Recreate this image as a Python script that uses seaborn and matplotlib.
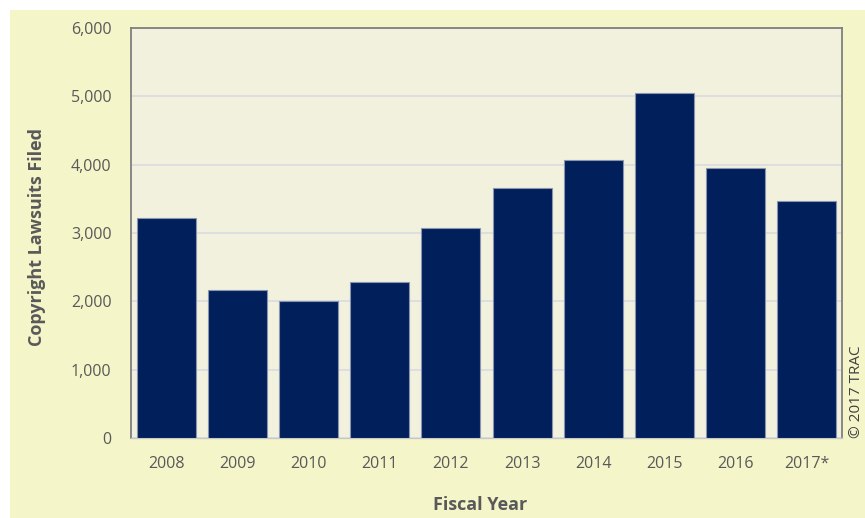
import matplotlib
matplotlib.use("Agg")
import matplotlib.pyplot as plt
import seaborn as sns
import pandas as pd
from matplotlib.patches import Rectangle

years = ["2008", "2009", "2010", "2011", "2012", "2013", "2014", "2015", "2016", "2017*"]
lawsuits = [3225, 2170, 2005, 2290, 3080, 3655, 4075, 5045, 3955, 3465]
yticks = [0, 1000, 2000, 3000, 4000, 5000, 6000]

df = pd.DataFrame({"year": years, "count": lawsuits})

sns.set_theme(style="white")
plt.rcParams["font.family"] = ["Open Sans", "DejaVu Sans"]

fig = plt.figure(figsize=(8.65, 5.18), dpi=100, facecolor="white")
fig.patches.append(Rectangle((10 / 865, 0), 1 - 10 / 865, 1 - 10 / 518,
                             transform=fig.transFigure, facecolor="#f4f5c9",
                             edgecolor="none", zorder=-5))

ax = fig.add_axes([131 / 865, (518 - 438) / 518, 711 / 865, 410 / 518])
ax.set_zorder(1)
ax.set_facecolor("#f1f1de")

sns.barplot(data=df, x="year", y="count", color="#001f5b", width=0.83,
            edgecolor="#8a93b0", linewidth=0.8, saturation=1, ax=ax, zorder=3)

ax.set_ylim(0, 6000)
ax.set_xlim(-0.5, len(years) - 0.5)
ax.set_yticks(yticks)
ax.set_yticklabels([f"{v:,}" for v in yticks])
ax.yaxis.grid(True, color="#d9dbe0", linewidth=1.2, zorder=0)
ax.set_axisbelow(True)

for s in ["left", "top", "right"]:
    ax.spines[s].set_color("#7f7f7f")
    ax.spines[s].set_linewidth(1.3)
ax.spines["bottom"].set_color("#c8c8c8")
ax.spines["bottom"].set_linewidth(1.0)

ax.tick_params(axis="both", length=0, labelsize=11.5, labelcolor="#595959")
ax.tick_params(axis="x", pad=13)
ax.tick_params(axis="y", pad=14)

ax.set_xlabel("")
ax.set_ylabel("")
fig.text(480 / 865, 1 - 505 / 518, "Fiscal Year", ha="center", va="center",
         fontsize=13, fontweight="bold", color="#595959")
fig.text(37 / 865, 1 - 237 / 518, "Copyright Lawsuits Filed", ha="center",
         va="center", rotation=90, fontsize=13, fontweight="bold",
         color="#595959")
fig.text(856 / 865, 1 - 392 / 518, "© 2017 TRAC", ha="center", va="center",
         rotation=90, fontsize=11, color="#404040")

fig.savefig("out.png", dpi=100, facecolor=fig.get_facecolor())
